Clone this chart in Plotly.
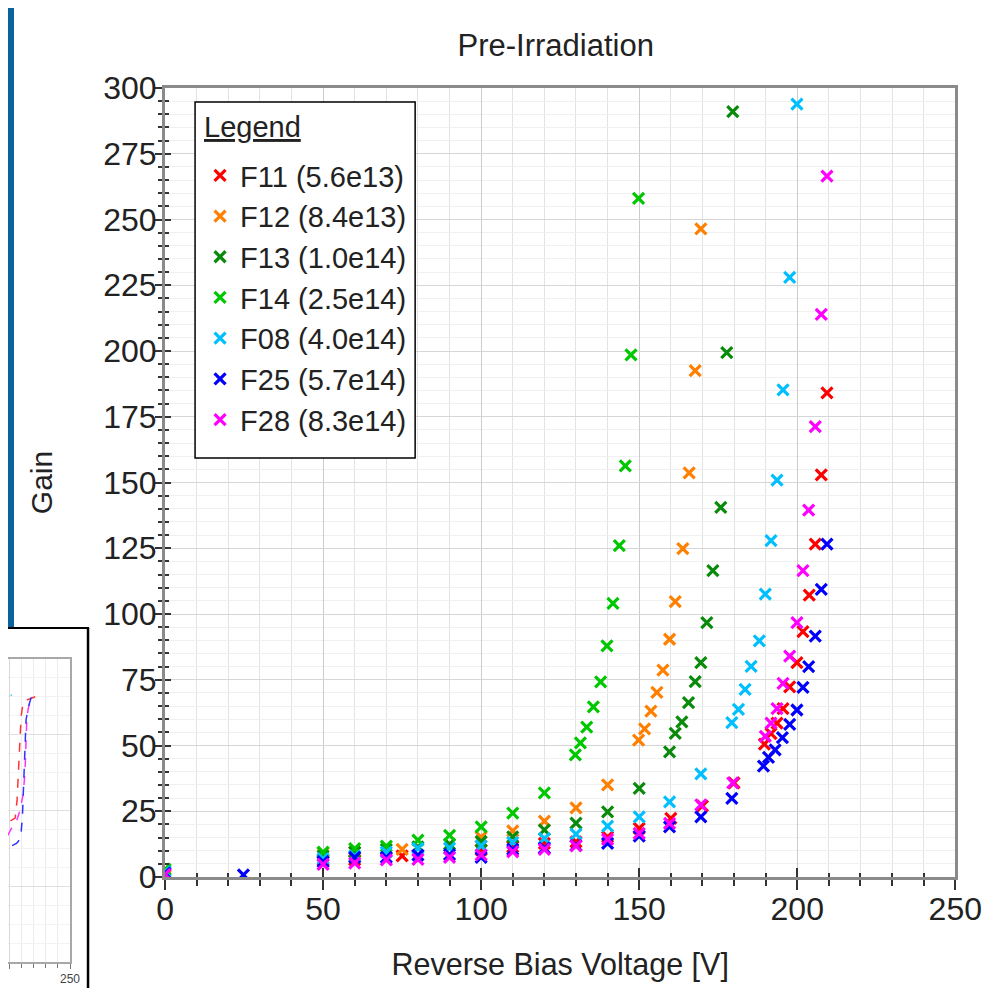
import plotly.graph_objects as go

# page is shown with the default 8 px body margin, so the figure is offset by 8 px
OFF = 8
W, H = 983, 980
KX = 0.9895  # measured horizontal compression of the rendered page

# ---------------- data ----------------
names = ["F11 (5.6e13)", "F12 (8.4e13)", "F13 (1.0e14)", "F14 (2.5e14)",
         "F08 (4.0e14)", "F25 (5.7e14)", "F28 (8.3e14)"]
colors = ["#ff0000", "#ff8000", "#0a8a0a", "#00c800", "#00bfff", "#0000ff", "#ff00ff"]

f11_v = [0, 50, 60, 75, 100, 110, 120, 130, 140, 150, 160, 170, 180, 189.6, 191.7, 193.6, 195.5,
         197.6, 199.9, 201.8, 203.8, 205.7, 207.6, 209.4]
f11_g = [1.0, 6.5, 6.5, 8.0, 10.3, 11.5, 12.8, 13.4, 15.3, 18.5, 22.3, 27.0, 35.8, 50.5, 54.5, 58.5, 64.0,
         72.3, 81.5, 93.3, 107.2, 126.6, 152.9, 184.1]

f12_v = [0, 50, 60, 75, 100, 110, 120, 130, 140, 149.8, 151.7, 153.7, 155.6, 157.5, 159.6, 161.4,
         163.8, 165.8, 167.7, 169.5]
f12_g = [0.3, 9.2, 9.5, 10.5, 15.2, 17.5, 21.2, 26.3, 35.0, 52.0, 56.3, 63.1, 70.2, 78.7, 90.4, 104.7,
         124.9, 153.7, 192.5, 246.4]

f13_v = [0, 50, 60, 70, 80, 90, 100, 110, 120, 130, 140, 150, 159.6, 161.4, 163.5, 165.6, 167.7,
         169.5, 171.4, 173.3, 175.8, 177.7, 179.6]
f13_g = [2.5, 8.0, 9.5, 10.5, 11.5, 12.5, 13.5, 15.3, 17.9, 20.5, 24.8, 33.7, 47.6, 54.6, 59.0, 66.3, 74.3,
         81.5, 96.7, 116.5, 140.5, 199.4, 291.0]

f14_v = [0, 50, 60, 70, 80, 90, 100, 110, 120, 129.8, 131.4, 133.4, 135.5, 137.8, 139.8, 141.7,
         143.7, 145.6, 147.4, 149.8]
f14_g = [3.0, 9.5, 10.8, 11.7, 14.0, 15.8, 19.1, 24.3, 32.0, 46.4, 51.0, 57.0, 64.7, 74.2, 87.9, 104.0,
         126.0, 156.3, 198.5, 258.0]

f08_v = [0, 50, 60, 70, 80, 90, 100, 110, 120, 130, 140, 150, 159.6, 169.5, 179.3, 181.4, 183.5,
         185.4, 188.0, 189.9, 191.7, 193.6, 195.5, 197.6, 199.9]
f08_g = [2.0, 7.0, 8.0, 9.5, 10.9, 11.0, 11.8, 13.2, 14.7, 16.3, 19.3, 22.9, 28.6, 39.2, 58.7, 63.7, 71.3,
         80.1, 89.8, 107.6, 127.9, 150.9, 185.2, 228.0, 293.9]

f25_v = [0, 24.8, 50, 60, 70, 80, 90, 100, 110, 120, 130, 140, 150, 159.6, 169.5, 179.3, 189.3, 190.9,
         193.0, 195.3, 197.6, 199.9, 201.8, 203.6, 205.7, 207.6, 209.4]
f25_g = [1.5, 0.8, 5.8, 7.5, 7.5, 8.3, 8.5, 7.5, 10.5, 11.0, 12.0, 12.8, 15.5, 19.1, 22.9, 29.9, 42.2, 45.5,
         48.3, 53.0, 58.0, 63.5, 72.1, 80.0, 91.6, 109.4, 126.6]

f28_v = [0, 50, 60, 70, 80, 90, 100, 110, 120, 130, 140, 150, 159.6, 169.5, 179.6, 189.9, 191.7,
         193.6, 195.5, 197.6, 199.9, 201.8, 203.6, 205.7, 207.6, 209.4]
f28_g = [1.0, 4.8, 5.3, 6.5, 6.7, 7.5, 8.4, 9.6, 10.5, 11.8, 14.3, 16.6, 20.4, 27.4, 35.8, 53.5, 58.5,
         64.0, 73.6, 84.0, 96.7, 116.5, 139.5, 171.2, 213.9, 266.5]

series_v = [f11_v, f12_v, f13_v, f14_v, f08_v, f25_v, f28_v]
series_g = [f11_g, f12_g, f13_g, f14_g, f08_g, f25_g, f28_g]

# inset (partially visible second chart, dashed curves)
inset_colors = ["#33bb33", "#33ccff", "#ff3333", "#ff33ff", "#3333ff"]
in_green_v = [189.0, 192.3, 194.5]
in_green_g = [66.0, 71.8, 73.2]
in_cyan_v = [188.0, 192.3, 193.7, 195.0, 196.4, 198.3, 201.9]
in_cyan_g = [38.0, 42.8, 48.1, 61.3, 68.4, 70.0, 70.5]
in_red_v = [188.0, 192.3, 200.5, 204.7, 206.3, 207.9, 209.6, 211.3, 214.6, 222.8]
in_red_g = [35.0, 36.2, 37.2, 38.0, 42.8, 54.1, 64.7, 68.6, 69.2, 70.2]
in_mag_v = [188.0, 192.3, 197.8, 201.9, 206.1, 208.8, 211.5, 212.9, 213.7, 214.3, 215.6, 217.0]
in_mag_g = [30.0, 31.2, 33.0, 35.4, 37.5, 40.1, 44.6, 50.7, 56.8, 63.9, 67.1, 68.6]
in_blue_v = [188.0, 192.3, 195.0, 200.5, 206.1, 208.2, 209.6, 210.7, 211.5, 212.3, 212.9, 213.7,
             215.6, 218.4, 219.7]
in_blue_g = [29.4, 29.6, 29.8, 30.4, 31.4, 32.2, 34.1, 38.3, 44.6, 51.5, 57.8, 63.9, 67.3, 70.5, 71.8]
inset_v = [in_green_v, in_cyan_v, in_red_v, in_mag_v, in_blue_v]
inset_g = [in_green_g, in_cyan_g, in_red_g, in_mag_g, in_blue_g]


# ---------------- layout helpers (target page pixel -> paper fraction) ----------------
def fx(p):
    return (p - OFF) / (W * KX)


def fy(p):
    return 1 - (p - OFF) / H


FONT = "Liberation Sans, Arial, sans-serif"
TXT = "#222222"
BLUE_BG = "#0b629c"

fig = go.Figure()

for n, c, v, g in zip(names, colors, series_v, series_g):
    fig.add_trace(go.Scatter(
        x=v, y=g, mode="markers", name=n, legendgroup=n,
        marker=dict(symbol="x-thin", size=11, color=c, line=dict(color=c, width=3.2)),
        xaxis="x", yaxis="y"))

for c, v, g in zip(inset_colors, inset_v, inset_g):
    fig.add_trace(go.Scatter(
        x=v, y=g, mode="lines", showlegend=False, hoverinfo="skip",
        line=dict(color=c, width=1.5, dash="dash"), xaxis="x2", yaxis="y2"))

# empty trace to activate the overlay axes used for the inner half of the crossing ticks
fig.add_trace(go.Scatter(x=[], y=[], xaxis="x3", yaxis="y3", showlegend=False))

main_x_dom = [fx(165), fx(955)]
main_y_dom = [fy(877), fy(88)]

fig.update_layout(
    width=W, height=H, autosize=False,
    margin=dict(l=0, r=0, t=0, b=0, pad=0),
    paper_bgcolor=BLUE_BG, plot_bgcolor="white",
    font=dict(family=FONT, color=TXT),
    title=dict(text="Pre-Irradiation", x=fx(550), xref="container", xanchor="center",
               y=fy(45), yref="container", yanchor="middle",
               font=dict(size=31, family=FONT, color=TXT)),
    xaxis=dict(domain=main_x_dom, anchor="y", range=[0, 250], tick0=0, dtick=50,
               ticks="outside", ticklen=10, tickwidth=1.5, tickcolor="#333",
               showline=True, linecolor="#8a8a8a", linewidth=3, mirror=True,
               showgrid=True, gridcolor="#cccccc", gridwidth=1, zeroline=False,
               tickfont=dict(size=32, family=FONT, color=TXT), ticklabelstandoff=-8,
               minor=dict(dtick=10, ticks="outside", ticklen=6, tickwidth=1.5, tickcolor="#333",
                          showgrid=True, gridcolor="#e3e3e3", gridwidth=1),
               title=dict(text="Reverse Bias Voltage [V]", standoff=28,
                          font=dict(size=30.5, family=FONT, color=TXT)),
               automargin=False),
    yaxis=dict(domain=main_y_dom, anchor="x", range=[0, 300], tick0=0, dtick=25,
               ticks="outside", ticklen=7, tickwidth=1.5, tickcolor="#333",
               showline=True, linecolor="#8a8a8a", linewidth=3, mirror=True,
               showgrid=True, gridcolor="#d6d6d6", gridwidth=1, zeroline=False,
               tickfont=dict(size=32, family=FONT, color=TXT), ticklabelstandoff=-8,
               minor=dict(dtick=5, ticks="outside", ticklen=4, tickwidth=1.5, tickcolor="#333",
                          showgrid=True, gridcolor="#f0f0f0", gridwidth=1),
               title=dict(text="Gain", standoff=42,
                          font=dict(size=30, family=FONT, color=TXT)),
               automargin=False),
    xaxis3=dict(overlaying="x", anchor="y", range=[0, 250], tick0=0, dtick=50,
                ticks="inside", ticklen=9, tickwidth=1.5, tickcolor="#333",
                showticklabels=False, showgrid=False, showline=False, zeroline=False,
                minor=dict(dtick=10, ticks="inside", ticklen=4, tickwidth=1.5, tickcolor="#333",
                           showgrid=False)),
    yaxis3=dict(overlaying="y", anchor="x", range=[0, 300], tick0=0, dtick=25,
                ticks="inside", ticklen=6, tickwidth=1.5, tickcolor="#333",
                showticklabels=False, showgrid=False, showline=False, zeroline=False,
                minor=dict(dtick=5, ticks="inside", ticklen=4, tickwidth=1.5, tickcolor="#333",
                           showgrid=False)),
    xaxis2=dict(domain=[0, fx(70)], anchor="y2", range=[198.8, 250], tick0=0, dtick=50,
                ticks="outside", ticklen=5, tickwidth=1, tickcolor="#777",
                showline=True, linecolor="#a8a8a8", linewidth=1.5, mirror=True,
                showgrid=True, gridcolor="#d8d8d8", zeroline=False,
                tickfont=dict(size=12, family=FONT, color="#444"),
                minor=dict(dtick=10, ticks="outside", ticklen=4, tickcolor="#777",
                           showgrid=True, gridcolor="#ececec")),
    yaxis2=dict(domain=[fy(962), fy(659)], anchor="x2", range=[0, 80], side="right",
                showticklabels=False, ticks="", showline=True, linecolor="#a8a8a8", linewidth=1.5,
                mirror=False, showgrid=True, gridcolor="#e0e0e0", dtick=20, zeroline=False,
                minor=dict(dtick=5, showgrid=True, gridcolor="#f2f2f2")),
    legend=dict(x=fx(200), y=fy(150), xanchor="left", yanchor="top",
                bgcolor="rgba(0,0,0,0)", borderwidth=0,
                font=dict(size=29, family=FONT, color=TXT),
                tracegroupgap=0, traceorder="grouped"),
    shapes=[
        # blue frame parts that fall in the page margin (shown only if the svg does not clip them)
        dict(type="rect", xref="paper", yref="paper", x0=fx(-20), x1=fx(1040), y0=fy(-20), y1=fy(8),
             fillcolor=BLUE_BG, line=dict(width=0), layer="below"),
        dict(type="rect", xref="paper", yref="paper", x0=fx(-20), x1=fx(14), y0=fy(-20), y1=fy(628),
             fillcolor=BLUE_BG, line=dict(width=0), layer="below"),
        # white panel
        dict(type="rect", xref="paper", yref="paper", x0=fx(14), x1=fx(1040), y0=fy(8), y1=fy(1020),
             fillcolor="white", line=dict(width=0), layer="below"),
        # inset card
        dict(type="rect", xref="paper", yref="paper", x0=fx(-20), x1=fx(88), y0=fy(628), y1=fy(1020),
             fillcolor="white", line=dict(width=0), layer="below"),
        dict(type="line", xref="paper", yref="paper", x0=fx(-20), x1=fx(89), y0=fy(628), y1=fy(628),
             line=dict(color="black", width=2), layer="above"),
        dict(type="line", xref="paper", yref="paper", x0=fx(88), x1=fx(88), y0=fy(628), y1=fy(1020),
             line=dict(color="black", width=2.5), layer="above"),
        # legend frame
        dict(type="rect", xref="paper", yref="paper", x0=fx(195), x1=fx(415), y0=fy(102), y1=fy(458),
             fillcolor="white", line=dict(color="black", width=1.5), layer="above"),
    ],
    annotations=[
        dict(text="<u>Legend</u>", xref="paper", yref="paper", x=fx(202), y=fy(127),
             xanchor="left", yanchor="middle", showarrow=False,
             font=dict(size=29, family=FONT, color=TXT)),
    ],
    showlegend=True,
)

fig.write_html("out.html")
